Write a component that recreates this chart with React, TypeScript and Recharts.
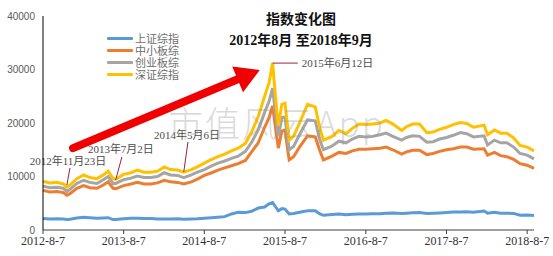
import React from 'react';
import { LineChart, Line, XAxis, YAxis, ReferenceLine } from 'recharts';

// sampled roughly monthly, denser around the 2015 peak
const dates = [
  '2012-8-7', '2012-9-7', '2012-10-8', '2012-11-7', '2012-11-23', '2012-12-7',
  '2013-1-7', '2013-2-7', '2013-3-7', '2013-4-8', '2013-5-7', '2013-5-29', '2013-6-20', '2013-7-2',
  '2013-8-7', '2013-9-9', '2013-10-8', '2013-11-7', '2013-12-9',
  '2014-1-7', '2014-2-7', '2014-3-7', '2014-4-8', '2014-5-6', '2014-6-9', '2014-7-7',
  '2014-8-7', '2014-9-9', '2014-10-8', '2014-11-7', '2014-12-8',
  '2015-1-7', '2015-2-9', '2015-3-9', '2015-4-8', '2015-5-7', '2015-5-27', '2015-6-12', '2015-6-26',
  '2015-7-8', '2015-7-24', '2015-8-7', '2015-8-26', '2015-9-15', '2015-10-12', '2015-11-17', '2015-12-22',
  '2016-1-12', '2016-1-28', '2016-3-7', '2016-4-7', '2016-5-9', '2016-6-7', '2016-7-7',
  '2016-8-8', '2016-9-7', '2016-10-10', '2016-11-7', '2016-12-7',
  '2017-1-16', '2017-2-7', '2017-3-7', '2017-4-7', '2017-5-10', '2017-6-7', '2017-7-7',
  '2017-8-7', '2017-9-7', '2017-10-9', '2017-11-7', '2017-12-7',
  '2018-1-24', '2018-2-9', '2018-3-12', '2018-4-9', '2018-5-7', '2018-6-7', '2018-7-6',
  '2018-8-7', '2018-9-7',
];

const shangzheng = [
  2150, 2050, 2100, 2050, 1950, 2000,
  2250, 2400, 2300, 2200, 2250, 2300, 1950, 1980,
  2100, 2200, 2200, 2150, 2150,
  2050, 2050, 2050, 2100, 2020, 2050, 2100,
  2200, 2300, 2400, 2500, 3000,
  3300, 3250, 3500, 4100, 4300, 4900, 5150, 4300,
  3600, 4000, 3900, 3000, 3100, 3300, 3600, 3600,
  3000, 2750, 2900, 3000, 2850, 2950, 3000,
  3000, 3050, 3050, 3150, 3200,
  3100, 3150, 3230, 3250, 3080, 3150, 3200,
  3270, 3350, 3380, 3420, 3300,
  3550, 3150, 3300, 3150, 3150, 3100, 2750,
  2800, 2700,
];

const zhongxiao = [
  7400, 7100, 7200, 7000, 6500, 6800,
  7800, 8300, 7900, 7800, 8400, 9000, 7800, 7700,
  8300, 8600, 8900, 8600, 8600,
  8800, 9300, 9000, 8900, 8600, 9000, 9500,
  10200, 10700, 11200, 11600, 12000,
  12400, 13000, 14600, 16300, 19200, 21000, 23200, 18800,
  15300, 18500, 18700, 13100, 13700, 15500, 17600, 17400,
  14800, 13100, 13800, 14500, 14300, 14800, 15100,
  15100, 15200, 15300, 15500, 15000,
  14200, 14600, 14900, 14900, 14100, 14300, 14700,
  15000, 15200, 15500, 15500, 15100,
  15200, 14000, 14500, 13900, 13700, 13200, 12400,
  12100, 11500,
];

const chuangye = [
  8200, 7900, 8000, 7800, 7200, 7600,
  8700, 9300, 8900, 8700, 9400, 10000, 8700, 8700,
  9400, 9700, 10100, 9800, 9800,
  10000, 10700, 10300, 10200, 9800, 10300, 10800,
  11300, 12000, 12500, 12900, 13400,
  13800, 14700, 16400, 18700, 22000, 24000, 26500, 21500,
  17500, 21000, 21100, 15000, 15600, 17800, 20600, 20400,
  16800, 15000, 15700, 16600, 16300, 17000, 17500,
  17400, 17500, 17800, 18100, 17500,
  16800, 17300, 17600, 17500, 16400, 16500, 17000,
  17300, 17700, 18200, 18000, 17400,
  17600, 15900, 16800, 16300, 16300, 15500, 14300,
  14000, 13300,
];

const shenzheng = [
  9100, 8800, 8900, 8600, 8000, 8400,
  9600, 10300, 9800, 9600, 10300, 11000, 9600, 9500,
  10400, 10700, 11200, 10800, 10800,
  11000, 11800, 11300, 11200, 10800, 11300, 11800,
  12500, 13200, 13700, 14200, 14800,
  15300, 16200, 18300, 21200, 25000, 27500, 31200, 24500,
  19500, 23500, 23700, 16800, 17500, 20000, 23500, 23000,
  19000, 16800, 17500, 18600, 18000, 19000, 19800,
  19700, 19800, 20000, 20500, 19800,
  18600, 19300, 19800, 19800, 18200, 18300, 18800,
  19200, 19700, 20100, 19900, 19200,
  19600, 17800, 18700, 18100, 18100, 17200, 15800,
  15500, 14800,
];

const seriesNames = ['上证综指', '中小板综', '创业板综', '深证综指'];
const seriesColors = ['#5B9BD5', '#ED7D31', '#A5A5A5', '#FFC000'];
const seriesValues = [shangzheng, zhongxiao, chuangye, shenzheng];

const xTickLabels = ['2012-8-7', '2013-8-7', '2014-8-7', '2015-8-7', '2016-8-7', '2017-8-7', '2018-8-7'];
const yTicks = [0, 10000, 20000, 30000, 40000];

const toTime = (s: string) => {
  const [y, m, d] = s.split('-').map(Number);
  return Date.UTC(y, m - 1, d);
};

const data = dates.map((d, i) => {
  const row: Record<string, number> = { t: toTime(d) };
  seriesNames.forEach((name, k) => {
    row[name] = seriesValues[k][i];
  });
  return row;
});

const xTicks = xTickLabels.map(toTime);
const tickLabelOf = (t: number) => {
  const i = xTicks.indexOf(t);
  return i >= 0 ? xTickLabels[i] : '';
};

// date annotations: leader from the point on the curve up to the label
const notes = [
  { text: '2012年11月23日', from: ['2012-11-23', 8400], to: ['2012-12-7', 11600], dx: -2, dy: -3, anchor: 'middle' },
  { text: '2013年7月2日', from: ['2013-7-2', 9350], to: ['2013-7-30', 13650], dx: -1, dy: -4, anchor: 'middle' },
  { text: '2014年5月6日', from: ['2014-5-6', 10850], to: ['2014-5-25', 16450], dx: -1, dy: -3, anchor: 'middle' },
  { text: '2015年6月12日', from: ['2015-6-12', 31200], to: ['2015-10-4', 31200], dx: 4, dy: 4, anchor: 'start' },
];

const arrowFrom = ['2012-12-21', 15300] as const;
const arrowTo = ['2015-4-15', 29900] as const;

const makeLeader = (text: string, dx: number, dy: number, anchor: string) => (props: any) => {
  const { x1, y1, x2, y2 } = props;
  return (
    <g>
      <line x1={x1} y1={y1} x2={x2} y2={y2} stroke="#9B2335" strokeWidth={1} />
      <text
        x={x2 + dx}
        y={y2 + dy}
        textAnchor={anchor as any}
        fontSize={11}
        fontFamily='"Liberation Serif", "Noto Sans CJK SC", serif'
        fill="#4D4D4D"
      >
        {text}
      </text>
    </g>
  );
};

const Arrow = (props: any) => {
  const { x1, y1, x2, y2 } = props;
  const len = Math.hypot(x2 - x1, y2 - y1);
  const ux = (x2 - x1) / len;
  const uy = (y2 - y1) / len;
  const head = 24;
  const half = 14;
  const bx = x2 - ux * head;
  const by = y2 - uy * head;
  return (
    <g>
      <line x1={x1} y1={y1} x2={bx + ux * 2} y2={by + uy * 2} stroke="#F00000" strokeWidth={8} strokeLinecap="round" />
      <polygon
        points={`${x2},${y2} ${bx - uy * half},${by + ux * half} ${bx + uy * half},${by - ux * half}`}
        fill="#F00000"
      />
    </g>
  );
};

export default function App() {
  return (
    <div style={{ position: 'absolute', left: 0, top: 0, width: 553, height: 256, background: '#fff' }}>
      <LineChart width={553} height={256} data={data} margin={{ top: 16, right: 19, bottom: 0, left: 3 }}>
        <XAxis
          type="number"
          dataKey="t"
          domain={['dataMin', 'dataMax']}
          ticks={xTicks}
          tickFormatter={tickLabelOf}
          height={26}
          tickSize={4}
          tickMargin={2}
          axisLine={{ stroke: '#404040' }}
          tickLine={{ stroke: '#404040' }}
          tick={{ fontSize: 12, fill: '#333', fontFamily: '"Liberation Serif", serif' }}
          interval={0}
        />
        <YAxis
          domain={[0, 40000]}
          ticks={yTicks}
          width={40}
          tickLine={false}
          axisLine={{ stroke: '#000' }}
          tick={{ fontSize: 10, fill: '#595959', fontFamily: '"Liberation Sans", sans-serif' }}
        />
        {seriesNames.map((name, k) => (
          <Line
            key={name}
            dataKey={name}
            stroke={seriesColors[k]}
            strokeWidth={3}
            dot={false}
            type="linear"
            isAnimationActive={false}
          />
        ))}
        <ReferenceLine
          segment={[
            { x: toTime(arrowFrom[0]), y: arrowFrom[1] },
            { x: toTime(arrowTo[0]), y: arrowTo[1] },
          ]}
          ifOverflow="visible"
          shape={Arrow}
        />
        {notes.map((n) => (
          <ReferenceLine
            key={n.text}
            segment={[
              { x: toTime(n.from[0] as string), y: n.from[1] as number },
              { x: toTime(n.to[0] as string), y: n.to[1] as number },
            ]}
            ifOverflow="visible"
            shape={makeLeader(n.text, n.dx, n.dy, n.anchor)}
          />
        ))}
      </LineChart>

      {/* title */}
      <div
        style={{
          position: 'absolute',
          left: 0,
          top: 9,
          width: 602,
          textAlign: 'center',
          fontFamily: '"Liberation Serif", "Noto Sans CJK SC", serif',
          fontWeight: 'bold',
          fontSize: 14,
          lineHeight: '21px',
          color: '#111',
        }}
      >
        <div>指数变化图</div>
        <div>2012年8月 至2018年9月</div>
      </div>

      {/* legend */}
      <div style={{ position: 'absolute', left: 107, top: 32 }}>
        {seriesNames.map((name, k) => (
          <div key={name} style={{ display: 'flex', alignItems: 'center', height: 12 }}>
            <div style={{ width: 26, height: 3, background: seriesColors[k], borderRadius: 1 }} />
            <span
              style={{
                marginLeft: 2,
                fontSize: 11,
                lineHeight: '12px',
                color: '#6E6E6E',
                fontFamily: '"Noto Sans CJK SC", sans-serif',
              }}
            >
              {name}
            </span>
          </div>
        ))}
      </div>

      {/* watermark */}
      <div
        style={{
          position: 'absolute',
          left: 168,
          top: 96,
          fontSize: 35,
          letterSpacing: 2,
          color: 'rgba(150,150,150,0.35)',
          fontFamily: '"Noto Sans CJK SC", serif',
          fontWeight: 300,
          pointerEvents: 'none',
          whiteSpace: 'nowrap',
        }}
      >
        市值风云App
      </div>
    </div>
  );
}
